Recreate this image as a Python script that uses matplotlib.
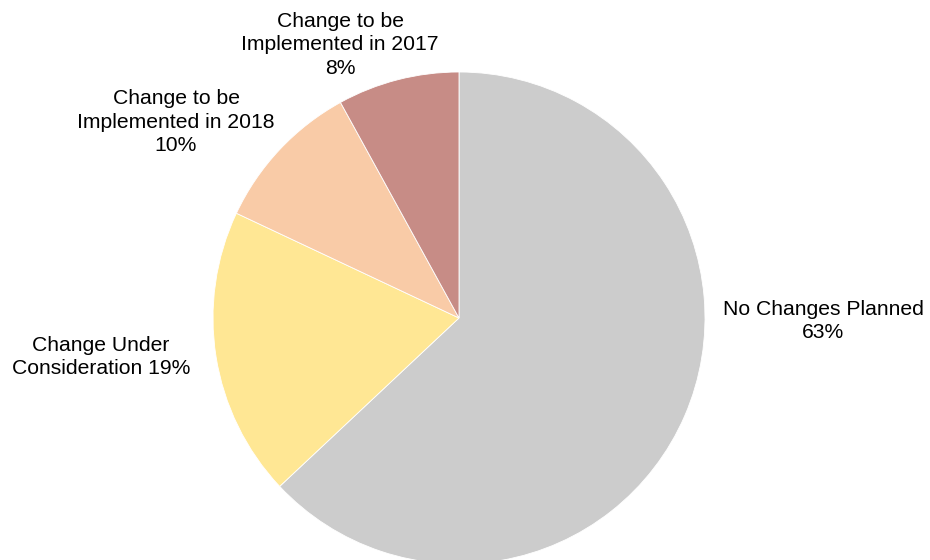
import matplotlib
matplotlib.use("Agg")
import matplotlib.pyplot as plt

# Planned changes, share of respondents (%)
categories = [
    "No Changes Planned",
    "Change Under\nConsideration",
    "Change to be\nImplemented in 2018",
    "Change to be\nImplemented in 2017",
]
shares = [63, 19, 10, 8]
colors = ["#CCCCCC", "#FFE794", "#F9CBA7", "#C78C86"]

plt.rcParams["font.family"] = ["Liberation Sans", "DejaVu Sans"]

W, H = 930, 560
fig = plt.figure(figsize=(W / 100, H / 100), dpi=100)
ax = fig.add_axes([0, 0, 1, 1])

cx, cy, r = 459, H - 318, 246
ax.pie(shares, colors=colors, startangle=90, counterclock=False,
       center=(cx, cy), radius=r, frame=True,
       wedgeprops=dict(edgecolor="white", linewidth=0.6))
ax.set_xlim(0, W)
ax.set_ylim(0, H)
ax.set_aspect("equal")
ax.axis("off")

# label text and placement (pixel centres from the top-left)
label_text = [
    f"{categories[0]}\n{shares[0]}%",
    f"{categories[1]} {shares[1]}%",
    f"{categories[2]}\n{shares[2]}%",
    f"{categories[3]}\n{shares[3]}%",
]
label_pos = [(823, 321), (101, 357), (176, 122), (340, 45)]

for txt, (x, y) in zip(label_text, label_pos):
    ax.text(x, H - y, txt, ha="center", va="center", fontsize=15.2,
            linespacing=1.28, color="black")

fig.savefig("out.png", dpi=100)
